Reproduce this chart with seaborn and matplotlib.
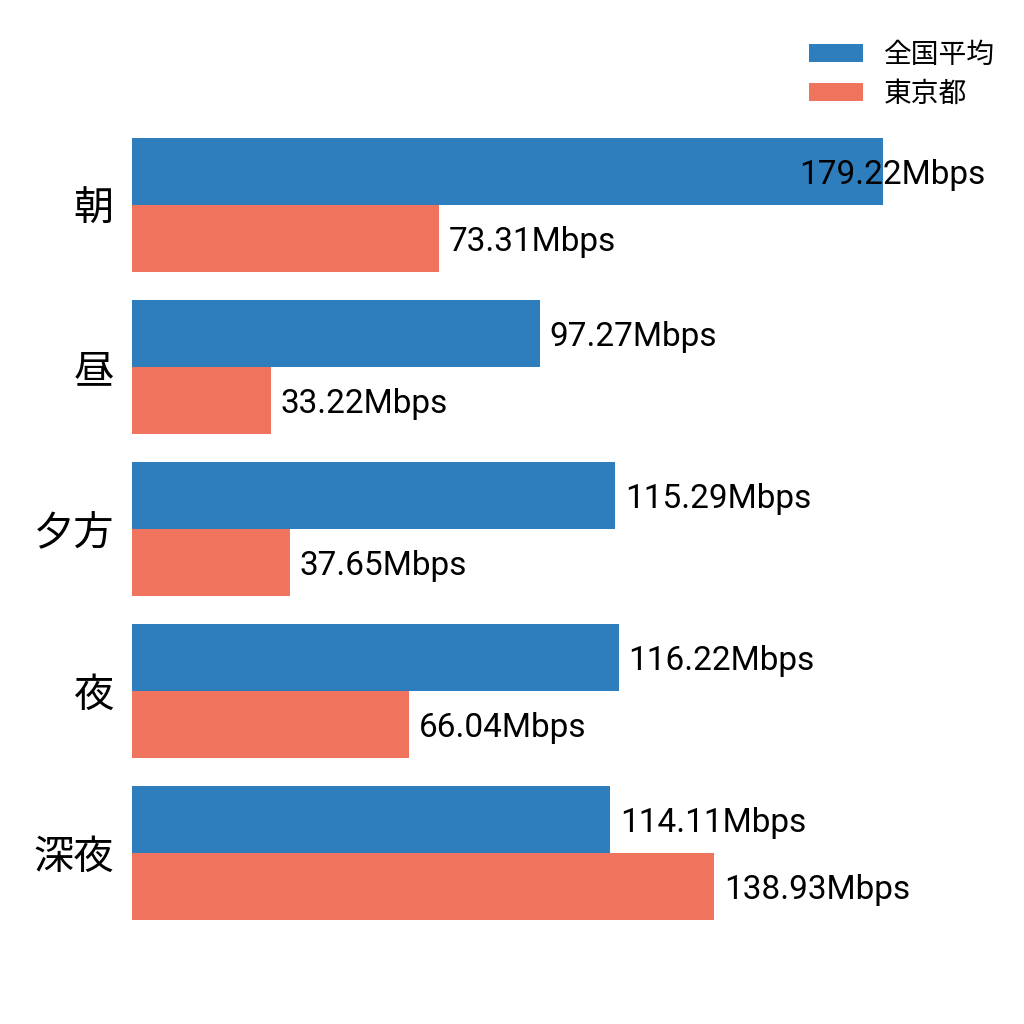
import matplotlib
matplotlib.use("Agg")
import matplotlib.pyplot as plt
import seaborn as sns
import pandas as pd
from matplotlib.transforms import offset_copy

categories = ["朝", "昼", "夕方", "夜", "深夜"]
series_names = ["全国平均", "東京都"]
national = [179.22, 97.27, 115.29, 116.22, 114.11]
tokyo = [73.31, 33.22, 37.65, 66.04, 138.93]
colors = ["#2e7dbc", "#f0735e"]

df = pd.DataFrame({
    "time": categories * 2,
    "series": [series_names[0]] * len(categories) + [series_names[1]] * len(categories),
    "speed": national + tokyo,
})

sns.set_theme(style="white")
plt.rcParams["font.family"] = ["Noto Sans CJK JP", "DejaVu Sans"]

fig = plt.figure(figsize=(10.24, 10.24), dpi=100)
ax = fig.add_axes([132 / 1024, 1 - 934 / 1024, (1000 - 132) / 1024, 810 / 1024])

sns.barplot(data=df, y="time", x="speed", hue="series", order=categories,
            hue_order=series_names, palette=colors, orient="h", width=0.83,
            saturation=1, linewidth=0, edgecolor="none", ax=ax, legend=True)

xmax = (985 - 132) / 4.19
ax.set_xlim(0, xmax * (1000 - 132) / (985 - 132))
ax.set_ylim(4.5, -0.5)
for s in ax.spines.values():
    s.set_visible(False)
ax.set_xticks([])
ax.set_xlabel("")
ax.set_ylabel("")
ax.tick_params(axis="y", length=0, pad=13, labelsize=29, labelcolor="#000000")
for t in ax.get_yticklabels():
    t.set_fontfamily(["Noto Sans CJK JP", "DejaVu Sans"])

fig.canvas.draw()
renderer = fig.canvas.get_renderer()
for container in ax.containers:
    for bar in container:
        w = bar.get_width()
        yc = bar.get_y() + bar.get_height() / 2
        txt = ax.text(w, yc, f"{w:.2f}Mbps", va="center", ha="left",
                      fontsize=24, family=["Roboto", "DejaVu Sans"], color="#000000",
                      transform=offset_copy(ax.transData, fig=fig, x=7, y=-2.5, units="points"))
        fig.canvas.draw()
        bb = txt.get_window_extent(renderer)
        if bb.x1 > 985:
            txt.set_transform(offset_copy(ax.transData, fig=fig, x=0, y=-2.5, units="points"))
            txt.set_position((xmax, yc))
            txt.set_ha("right")

leg = ax.legend(loc="upper right", bbox_to_anchor=(0.982, 0.972),
                bbox_transform=fig.transFigure, frameon=False, fontsize=20,
                handlelength=1.95, handleheight=0.65, labelspacing=0.32,
                handletextpad=0.72, borderaxespad=0)
for t in leg.get_texts():
    t.set_fontfamily(["Noto Sans CJK JP", "DejaVu Sans"])
    t.set_color("#000000")

fig.savefig("out.png", dpi=100, facecolor="white")
